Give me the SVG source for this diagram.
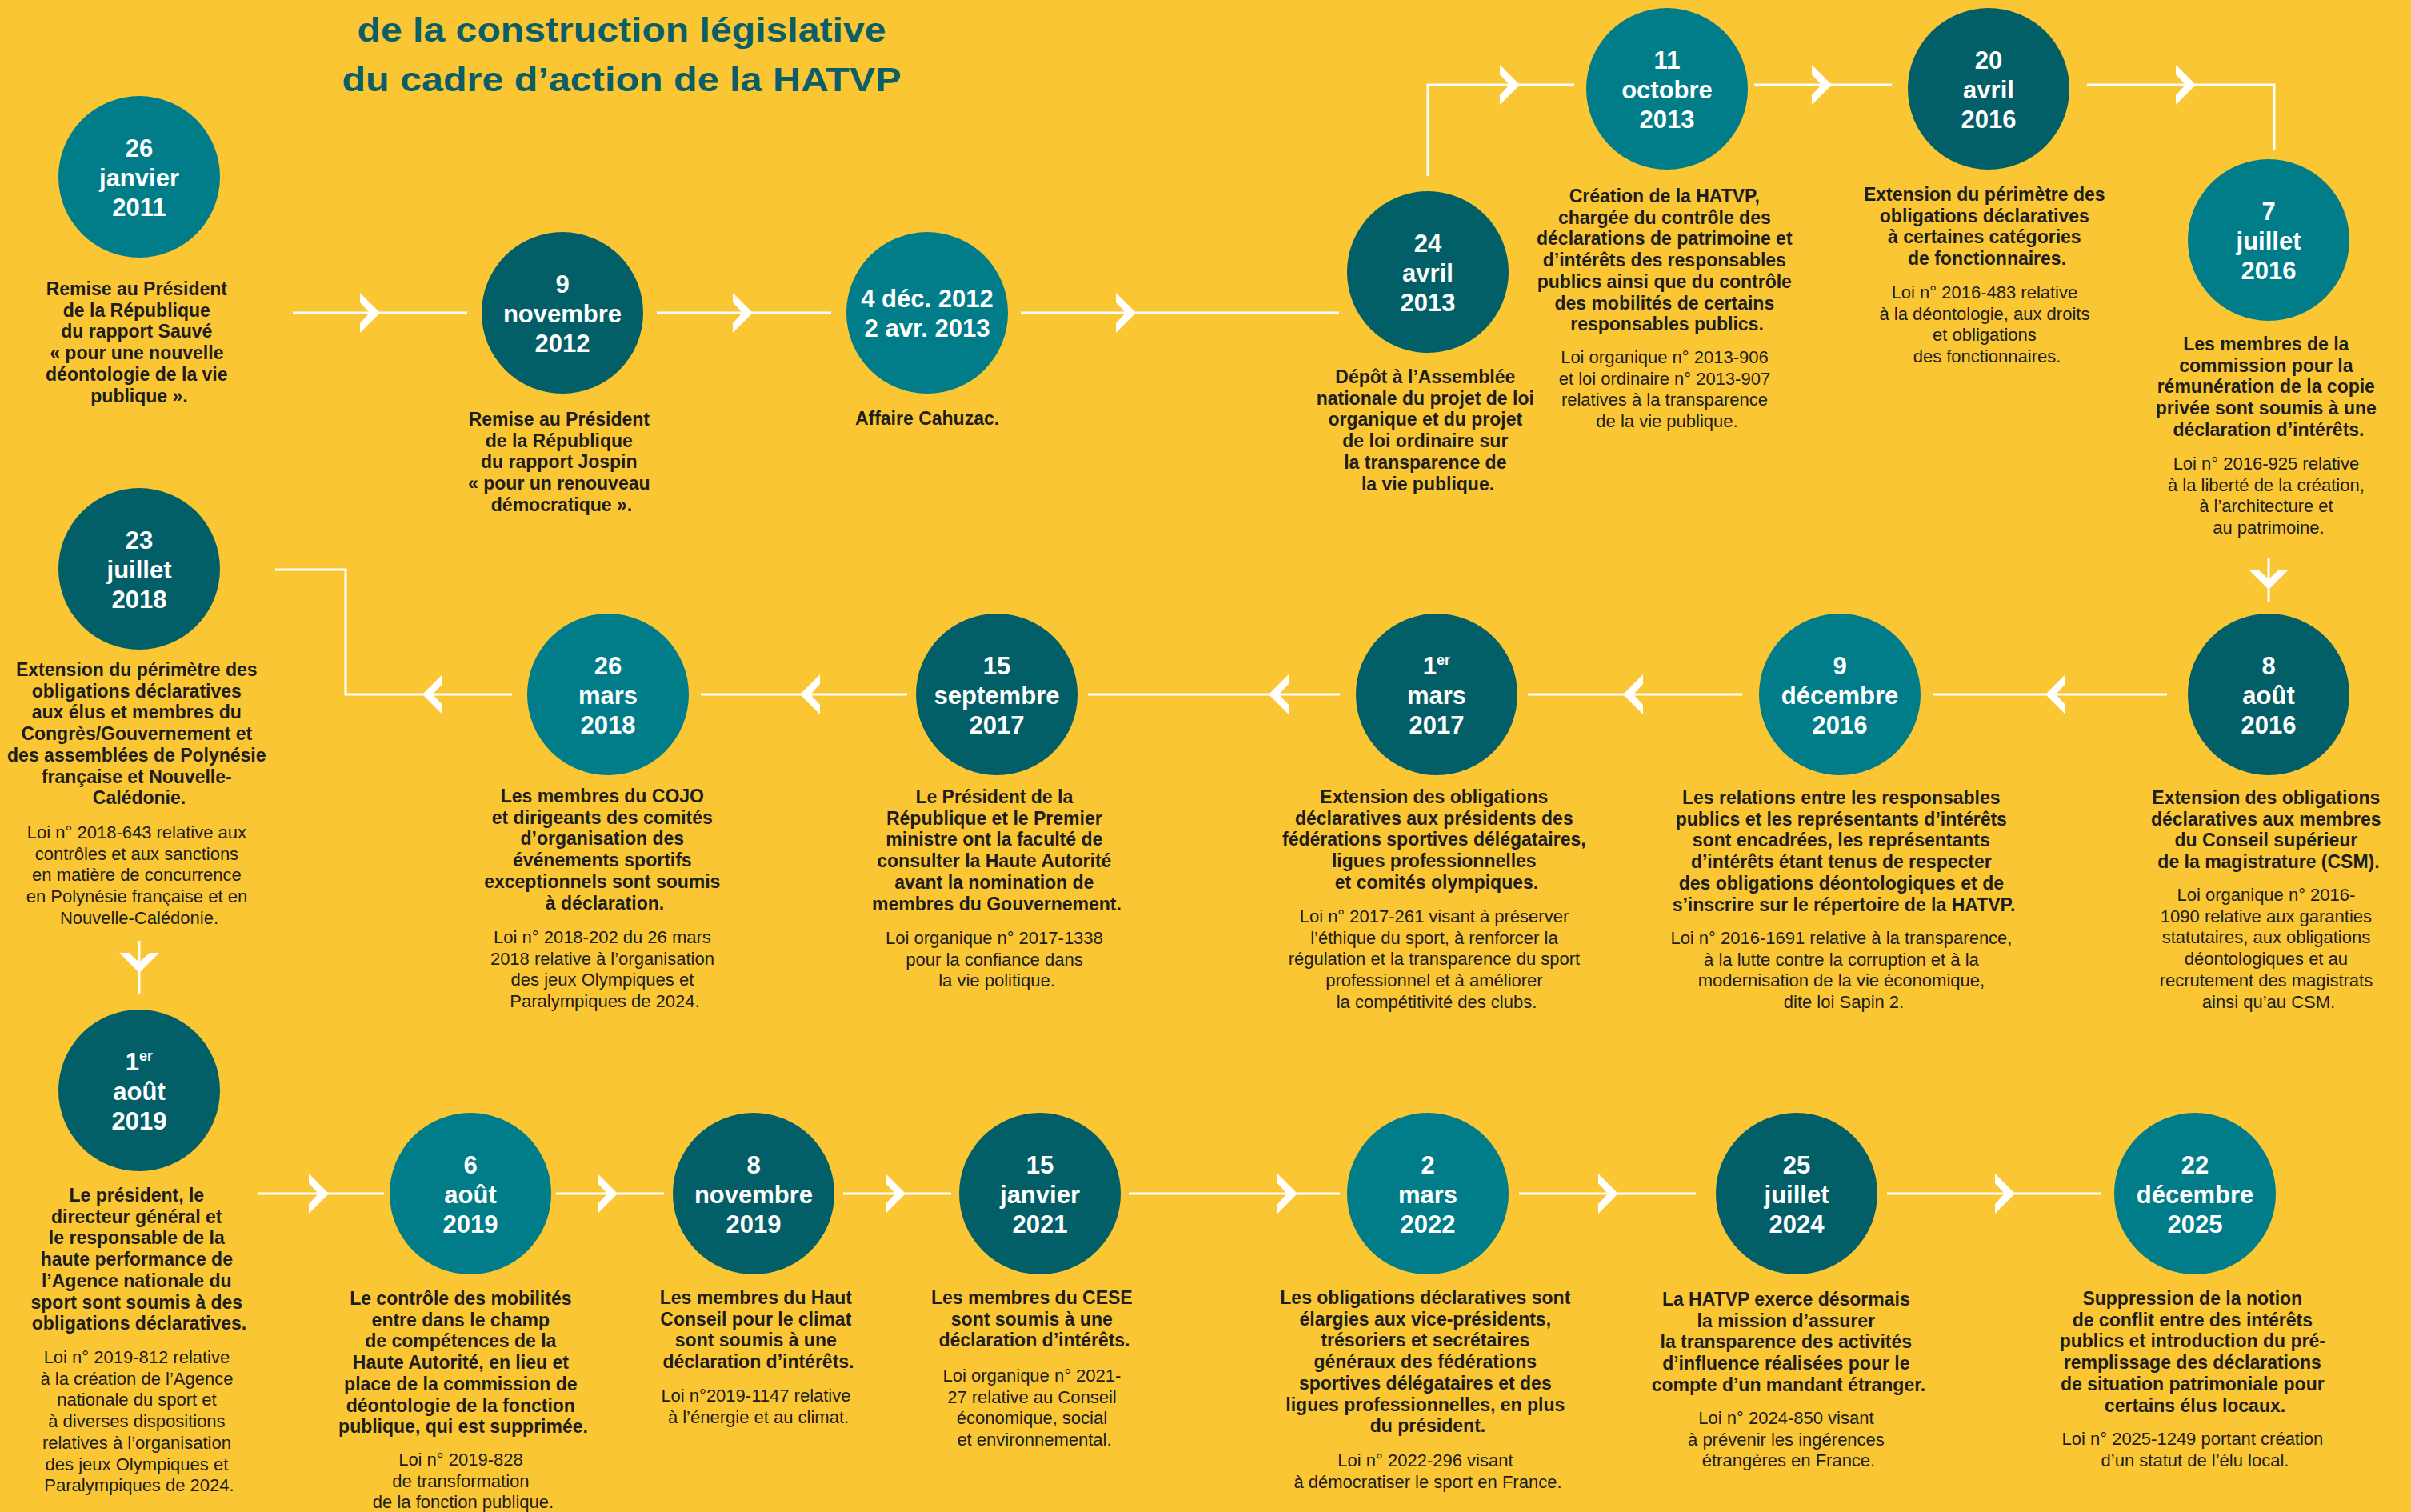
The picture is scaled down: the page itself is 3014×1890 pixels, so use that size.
<svg xmlns="http://www.w3.org/2000/svg" xmlns:xlink="http://www.w3.org/1999/xlink" width="3014" height="1890" viewBox="0 0 3014 1890">
  <style>
    .bg { fill: #FBC633; }
    .light { fill: #007D89; }
    .dark { fill: #035F67; }
    .title { font-family: "Liberation Sans", Arial, sans-serif; font-weight: 700; font-size: 42px; fill: #0B5D66; text-anchor: middle; }
    .date { font-family: "Liberation Sans", Arial, sans-serif; font-weight: 700; font-size: 31px; fill: #FFFFFF; text-anchor: middle; }
    .sup { font-size: 18px; }
    .lead { font-family: "Liberation Sans", Arial, sans-serif; font-weight: 700; font-size: 23px; fill: #1D1D1B; text-anchor: middle; }
    .law { font-family: "Liberation Sans", Arial, sans-serif; font-weight: 400; font-size: 22px; fill: #1D1D1B; text-anchor: middle; }
    .wire { fill: none; stroke: #FFFFFF; stroke-width: 3; }
    .head { fill: #FFFFFF; }
  </style>
  <defs>
    <!-- chevron arrowhead, tip at the origin, pointing right -->
    <path id="chev" class="head" d="M-25,-25 L0,0 L-25,25 L-25,13 L-13,0 L-25,-13 Z"/>
  </defs>

  <rect class="bg" x="0" y="0" width="3014" height="1890"/>

  <g id="title">
    <text class="title" x="777" y="52" textLength="661" lengthAdjust="spacingAndGlyphs">de la construction législative</text>
    <text class="title" x="777" y="114" textLength="699" lengthAdjust="spacingAndGlyphs">du cadre d’action de la HATVP</text>
  </g>

  <g id="connectors">
    <!-- row 1 -->
    <path class="wire" d="M366,391 H584"/>
    <use xlink:href="#chev" transform="translate(475,391)"/>
    <path class="wire" d="M821,391 H1039"/>
    <use xlink:href="#chev" transform="translate(941,391)"/>
    <path class="wire" d="M1276,391 H1674"/>
    <use xlink:href="#chev" transform="translate(1420,391)"/>
    <path class="wire" d="M1785,220 V106 H1968"/>
    <use xlink:href="#chev" transform="translate(1900,106)"/>
    <path class="wire" d="M2193,106 H2365"/>
    <use xlink:href="#chev" transform="translate(2290,106)"/>
    <path class="wire" d="M2609,106 H2843 V187"/>
    <use xlink:href="#chev" transform="translate(2745,106)"/>
    <!-- row 2, running right to left -->
    <path class="wire" d="M2836,697 V752"/>
    <use xlink:href="#chev" transform="translate(2836,737) rotate(90)"/>
    <path class="wire" d="M2709,868 H2416"/>
    <use xlink:href="#chev" transform="translate(2557,868) rotate(180)"/>
    <path class="wire" d="M2178,868 H1910"/>
    <use xlink:href="#chev" transform="translate(2029,868) rotate(180)"/>
    <path class="wire" d="M1675,868 H1360"/>
    <use xlink:href="#chev" transform="translate(1586,868) rotate(180)"/>
    <path class="wire" d="M1134,868 H876"/>
    <use xlink:href="#chev" transform="translate(1000,868) rotate(180)"/>
    <path class="wire" d="M640,868 H432 V712 H344"/>
    <use xlink:href="#chev" transform="translate(528,868) rotate(180)"/>
    <!-- row 3 -->
    <path class="wire" d="M174,1176 V1243"/>
    <use xlink:href="#chev" transform="translate(174,1216) rotate(90)"/>
    <path class="wire" d="M322,1492 H480"/>
    <use xlink:href="#chev" transform="translate(411,1492)"/>
    <path class="wire" d="M695,1492 H830"/>
    <use xlink:href="#chev" transform="translate(772,1492)"/>
    <path class="wire" d="M1054,1492 H1189"/>
    <use xlink:href="#chev" transform="translate(1132,1492)"/>
    <path class="wire" d="M1411,1492 H1675"/>
    <use xlink:href="#chev" transform="translate(1622,1492)"/>
    <path class="wire" d="M1899,1492 H2120"/>
    <use xlink:href="#chev" transform="translate(2023,1492)"/>
    <path class="wire" d="M2359,1492 H2627"/>
    <use xlink:href="#chev" transform="translate(2519,1492)"/>
  </g>

  <g id="n-2011-01-26">
    <circle class="light" cx="174" cy="221" r="101"/>
    <text class="date" x="174" y="196">26</text>
    <text class="date" x="174" y="233">janvier</text>
    <text class="date" x="174" y="270">2011</text>
    <text class="lead" x="174" y="369">
      <tspan x="174">Remise au Président</tspan>
      <tspan x="174" dy="26.7">de la République</tspan>
      <tspan x="174" dy="26.7">du rapport Sauvé</tspan>
      <tspan x="174" dy="26.7">« pour une nouvelle</tspan>
      <tspan x="174" dy="26.7">déontologie de la vie</tspan>
      <tspan x="174" dy="26.7">publique ».</tspan>
    </text>
  </g>

  <g id="n-2012-11-09">
    <circle class="dark" cx="703" cy="391" r="101"/>
    <text class="date" x="703" y="366">9</text>
    <text class="date" x="703" y="403">novembre</text>
    <text class="date" x="703" y="440">2012</text>
    <text class="lead" x="702" y="532">
      <tspan x="702">Remise au Président</tspan>
      <tspan x="702" dy="26.7">de la République</tspan>
      <tspan x="702" dy="26.7">du rapport Jospin</tspan>
      <tspan x="702" dy="26.7">« pour un renouveau</tspan>
      <tspan x="702" dy="26.7">démocratique ».</tspan>
    </text>
  </g>

  <g id="n-2012-12-04">
    <circle class="light" cx="1159" cy="391" r="101"/>
    <text class="date" x="1159" y="384">4 déc. 2012</text>
    <text class="date" x="1159" y="421">2 avr. 2013</text>
    <text class="lead" x="1159" y="531">Affaire Cahuzac.</text>
  </g>

  <g id="n-2013-04-24">
    <circle class="dark" cx="1785" cy="340" r="101"/>
    <text class="date" x="1785" y="315">24</text>
    <text class="date" x="1785" y="352">avril</text>
    <text class="date" x="1785" y="389">2013</text>
    <text class="lead" x="1785" y="479">
      <tspan x="1785">Dépôt à l’Assemblée</tspan>
      <tspan x="1785" dy="26.7">nationale du projet de loi</tspan>
      <tspan x="1785" dy="26.7">organique et du projet</tspan>
      <tspan x="1785" dy="26.7">de loi ordinaire sur</tspan>
      <tspan x="1785" dy="26.7">la transparence de</tspan>
      <tspan x="1785" dy="26.7">la vie publique.</tspan>
    </text>
  </g>

  <g id="n-2013-10-11">
    <circle class="light" cx="2084" cy="111" r="101"/>
    <text class="date" x="2084" y="86">11</text>
    <text class="date" x="2084" y="123">octobre</text>
    <text class="date" x="2084" y="160">2013</text>
    <text class="lead" x="2084" y="253">
      <tspan x="2084">Création de la HATVP,</tspan>
      <tspan x="2084" dy="26.7">chargée du contrôle des</tspan>
      <tspan x="2084" dy="26.7">déclarations de patrimoine et</tspan>
      <tspan x="2084" dy="26.7">d’intérêts des responsables</tspan>
      <tspan x="2084" dy="26.7">publics ainsi que du contrôle</tspan>
      <tspan x="2084" dy="26.7">des mobilités de certains</tspan>
      <tspan x="2084" dy="26.7">responsables publics.</tspan>
    </text>
    <text class="law" x="2084" y="454">
      <tspan x="2084">Loi organique n° 2013-906</tspan>
      <tspan x="2084" dy="26.7">et loi ordinaire n° 2013-907</tspan>
      <tspan x="2084" dy="26.7">relatives à la transparence</tspan>
      <tspan x="2084" dy="26.7">de la vie publique.</tspan>
    </text>
  </g>

  <g id="n-2016-04-20">
    <circle class="dark" cx="2486" cy="111" r="101"/>
    <text class="date" x="2486" y="86">20</text>
    <text class="date" x="2486" y="123">avril</text>
    <text class="date" x="2486" y="160">2016</text>
    <text class="lead" x="2484" y="251">
      <tspan x="2484">Extension du périmètre des</tspan>
      <tspan x="2484" dy="26.7">obligations déclaratives</tspan>
      <tspan x="2484" dy="26.7">à certaines catégories</tspan>
      <tspan x="2484" dy="26.7">de fonctionnaires.</tspan>
    </text>
    <text class="law" x="2484" y="373">
      <tspan x="2484">Loi n° 2016-483 relative</tspan>
      <tspan x="2484" dy="26.7">à la déontologie, aux droits</tspan>
      <tspan x="2484" dy="26.7">et obligations</tspan>
      <tspan x="2484" dy="26.7">des fonctionnaires.</tspan>
    </text>
  </g>

  <g id="n-2016-07-07">
    <circle class="light" cx="2836" cy="300" r="101"/>
    <text class="date" x="2836" y="275">7</text>
    <text class="date" x="2836" y="312">juillet</text>
    <text class="date" x="2836" y="349">2016</text>
    <text class="lead" x="2836" y="438">
      <tspan x="2836">Les membres de la</tspan>
      <tspan x="2836" dy="26.7">commission pour la</tspan>
      <tspan x="2836" dy="26.7">rémunération de la copie</tspan>
      <tspan x="2836" dy="26.7">privée sont soumis à une</tspan>
      <tspan x="2836" dy="26.7">déclaration d’intérêts.</tspan>
    </text>
    <text class="law" x="2836" y="587">
      <tspan x="2836">Loi n° 2016-925 relative</tspan>
      <tspan x="2836" dy="26.7">à la liberté de la création,</tspan>
      <tspan x="2836" dy="26.7">à l’architecture et</tspan>
      <tspan x="2836" dy="26.7">au patrimoine.</tspan>
    </text>
  </g>

  <g id="n-2016-08-08">
    <circle class="dark" cx="2836" cy="868" r="101"/>
    <text class="date" x="2836" y="843">8</text>
    <text class="date" x="2836" y="880">août</text>
    <text class="date" x="2836" y="917">2016</text>
    <text class="lead" x="2836" y="1005">
      <tspan x="2836">Extension des obligations</tspan>
      <tspan x="2836" dy="26.7">déclaratives aux membres</tspan>
      <tspan x="2836" dy="26.7">du Conseil supérieur</tspan>
      <tspan x="2836" dy="26.7">de la magistrature (CSM).</tspan>
    </text>
    <text class="law" x="2836" y="1126">
      <tspan x="2836">Loi organique n° 2016-</tspan>
      <tspan x="2836" dy="26.7">1090 relative aux garanties</tspan>
      <tspan x="2836" dy="26.7">statutaires, aux obligations</tspan>
      <tspan x="2836" dy="26.7">déontologiques et au</tspan>
      <tspan x="2836" dy="26.7">recrutement des magistrats</tspan>
      <tspan x="2836" dy="26.7">ainsi qu’au CSM.</tspan>
    </text>
  </g>

  <g id="n-2016-12-09">
    <circle class="light" cx="2300" cy="868" r="101"/>
    <text class="date" x="2300" y="843">9</text>
    <text class="date" x="2300" y="880">décembre</text>
    <text class="date" x="2300" y="917">2016</text>
    <text class="lead" x="2305" y="1005">
      <tspan x="2305">Les relations entre les responsables</tspan>
      <tspan x="2305" dy="26.7">publics et les représentants d’intérêts</tspan>
      <tspan x="2305" dy="26.7">sont encadrées, les représentants</tspan>
      <tspan x="2305" dy="26.7">d’intérêts étant tenus de respecter</tspan>
      <tspan x="2305" dy="26.7">des obligations déontologiques et de</tspan>
      <tspan x="2305" dy="26.7">s’inscrire sur le répertoire de la HATVP.</tspan>
    </text>
    <text class="law" x="2305" y="1180">
      <tspan x="2305">Loi n° 2016-1691 relative à la transparence,</tspan>
      <tspan x="2305" dy="26.7">à la lutte contre la corruption et à la</tspan>
      <tspan x="2305" dy="26.7">modernisation de la vie économique,</tspan>
      <tspan x="2305" dy="26.7">dite loi Sapin 2.</tspan>
    </text>
  </g>

  <g id="n-2017-03-01">
    <circle class="dark" cx="1796" cy="868" r="101"/>
    <text class="date" x="1796" y="843">1<tspan class="sup" dy="-12">er</tspan></text>
    <text class="date" x="1796" y="880">mars</text>
    <text class="date" x="1796" y="917">2017</text>
    <text class="lead" x="1796" y="1004">
      <tspan x="1796">Extension des obligations</tspan>
      <tspan x="1796" dy="26.7">déclaratives aux présidents des</tspan>
      <tspan x="1796" dy="26.7">fédérations sportives délégataires,</tspan>
      <tspan x="1796" dy="26.7">ligues professionnelles</tspan>
      <tspan x="1796" dy="26.7">et comités olympiques.</tspan>
    </text>
    <text class="law" x="1796" y="1153">
      <tspan x="1796">Loi n° 2017-261 visant à préserver</tspan>
      <tspan x="1796" dy="26.7">l’éthique du sport, à renforcer la</tspan>
      <tspan x="1796" dy="26.7">régulation et la transparence du sport</tspan>
      <tspan x="1796" dy="26.7">professionnel et à améliorer</tspan>
      <tspan x="1796" dy="26.7">la compétitivité des clubs.</tspan>
    </text>
  </g>

  <g id="n-2017-09-15">
    <circle class="dark" cx="1246" cy="868" r="101"/>
    <text class="date" x="1246" y="843">15</text>
    <text class="date" x="1246" y="880">septembre</text>
    <text class="date" x="1246" y="917">2017</text>
    <text class="lead" x="1246" y="1004">
      <tspan x="1246">Le Président de la</tspan>
      <tspan x="1246" dy="26.7">République et le Premier</tspan>
      <tspan x="1246" dy="26.7">ministre ont la faculté de</tspan>
      <tspan x="1246" dy="26.7">consulter la Haute Autorité</tspan>
      <tspan x="1246" dy="26.7">avant la nomination de</tspan>
      <tspan x="1246" dy="26.7">membres du Gouvernement.</tspan>
    </text>
    <text class="law" x="1246" y="1180">
      <tspan x="1246">Loi organique n° 2017-1338</tspan>
      <tspan x="1246" dy="26.7">pour la confiance dans</tspan>
      <tspan x="1246" dy="26.7">la vie politique.</tspan>
    </text>
  </g>

  <g id="n-2018-03-26">
    <circle class="light" cx="760" cy="868" r="101"/>
    <text class="date" x="760" y="843">26</text>
    <text class="date" x="760" y="880">mars</text>
    <text class="date" x="760" y="917">2018</text>
    <text class="lead" x="756" y="1003">
      <tspan x="756">Les membres du COJO</tspan>
      <tspan x="756" dy="26.7">et dirigeants des comités</tspan>
      <tspan x="756" dy="26.7">d’organisation des</tspan>
      <tspan x="756" dy="26.7">événements sportifs</tspan>
      <tspan x="756" dy="26.7">exceptionnels sont soumis</tspan>
      <tspan x="756" dy="26.7">à déclaration.</tspan>
    </text>
    <text class="law" x="756" y="1179">
      <tspan x="756">Loi n° 2018-202 du 26 mars</tspan>
      <tspan x="756" dy="26.7">2018 relative à l’organisation</tspan>
      <tspan x="756" dy="26.7">des jeux Olympiques et</tspan>
      <tspan x="756" dy="26.7">Paralympiques de 2024.</tspan>
    </text>
  </g>

  <g id="n-2018-07-23">
    <circle class="dark" cx="174" cy="711" r="101"/>
    <text class="date" x="174" y="686">23</text>
    <text class="date" x="174" y="723">juillet</text>
    <text class="date" x="174" y="760">2018</text>
    <text class="lead" x="174" y="845">
      <tspan x="174">Extension du périmètre des</tspan>
      <tspan x="174" dy="26.7">obligations déclaratives</tspan>
      <tspan x="174" dy="26.7">aux élus et membres du</tspan>
      <tspan x="174" dy="26.7">Congrès/Gouvernement et</tspan>
      <tspan x="174" dy="26.7">des assemblées de Polynésie</tspan>
      <tspan x="174" dy="26.7">française et Nouvelle-</tspan>
      <tspan x="174" dy="26.7">Calédonie.</tspan>
    </text>
    <text class="law" x="174" y="1048">
      <tspan x="174">Loi n° 2018-643 relative aux</tspan>
      <tspan x="174" dy="26.7">contrôles et aux sanctions</tspan>
      <tspan x="174" dy="26.7">en matière de concurrence</tspan>
      <tspan x="174" dy="26.7">en Polynésie française et en</tspan>
      <tspan x="174" dy="26.7">Nouvelle-Calédonie.</tspan>
    </text>
  </g>

  <g id="n-2019-08-01">
    <circle class="dark" cx="174" cy="1363" r="101"/>
    <text class="date" x="174" y="1338">1<tspan class="sup" dy="-12">er</tspan></text>
    <text class="date" x="174" y="1375">août</text>
    <text class="date" x="174" y="1412">2019</text>
    <text class="lead" x="174" y="1502">
      <tspan x="174">Le président, le</tspan>
      <tspan x="174" dy="26.7">directeur général et</tspan>
      <tspan x="174" dy="26.7">le responsable de la</tspan>
      <tspan x="174" dy="26.7">haute performance de</tspan>
      <tspan x="174" dy="26.7">l’Agence nationale du</tspan>
      <tspan x="174" dy="26.7">sport sont soumis à des</tspan>
      <tspan x="174" dy="26.7">obligations déclaratives.</tspan>
    </text>
    <text class="law" x="174" y="1704">
      <tspan x="174">Loi n° 2019-812 relative</tspan>
      <tspan x="174" dy="26.7">à la création de l’Agence</tspan>
      <tspan x="174" dy="26.7">nationale du sport et</tspan>
      <tspan x="174" dy="26.7">à diverses dispositions</tspan>
      <tspan x="174" dy="26.7">relatives à l’organisation</tspan>
      <tspan x="174" dy="26.7">des jeux Olympiques et</tspan>
      <tspan x="174" dy="26.7">Paralympiques de 2024.</tspan>
    </text>
  </g>

  <g id="n-2019-08-06">
    <circle class="light" cx="588" cy="1492" r="101"/>
    <text class="date" x="588" y="1467">6</text>
    <text class="date" x="588" y="1504">août</text>
    <text class="date" x="588" y="1541">2019</text>
    <text class="lead" x="579" y="1631">
      <tspan x="579">Le contrôle des mobilités</tspan>
      <tspan x="579" dy="26.7">entre dans le champ</tspan>
      <tspan x="579" dy="26.7">de compétences de la</tspan>
      <tspan x="579" dy="26.7">Haute Autorité, en lieu et</tspan>
      <tspan x="579" dy="26.7">place de la commission de</tspan>
      <tspan x="579" dy="26.7">déontologie de la fonction</tspan>
      <tspan x="579" dy="26.7">publique, qui est supprimée.</tspan>
    </text>
    <text class="law" x="579" y="1832">
      <tspan x="579">Loi n° 2019-828</tspan>
      <tspan x="579" dy="26.7">de transformation</tspan>
      <tspan x="579" dy="26.7">de la fonction publique.</tspan>
    </text>
  </g>

  <g id="n-2019-11-08">
    <circle class="dark" cx="942" cy="1492" r="101"/>
    <text class="date" x="942" y="1467">8</text>
    <text class="date" x="942" y="1504">novembre</text>
    <text class="date" x="942" y="1541">2019</text>
    <text class="lead" x="948" y="1630">
      <tspan x="948">Les membres du Haut</tspan>
      <tspan x="948" dy="26.7">Conseil pour le climat</tspan>
      <tspan x="948" dy="26.7">sont soumis à une</tspan>
      <tspan x="948" dy="26.7">déclaration d’intérêts.</tspan>
    </text>
    <text class="law" x="948" y="1752">
      <tspan x="948">Loi n°2019-1147 relative</tspan>
      <tspan x="948" dy="26.7">à l’énergie et au climat.</tspan>
    </text>
  </g>

  <g id="n-2021-01-15">
    <circle class="dark" cx="1300" cy="1492" r="101"/>
    <text class="date" x="1300" y="1467">15</text>
    <text class="date" x="1300" y="1504">janvier</text>
    <text class="date" x="1300" y="1541">2021</text>
    <text class="lead" x="1293" y="1630">
      <tspan x="1293">Les membres du CESE</tspan>
      <tspan x="1293" dy="26.7">sont soumis à une</tspan>
      <tspan x="1293" dy="26.7">déclaration d’intérêts.</tspan>
    </text>
    <text class="law" x="1293" y="1727">
      <tspan x="1293">Loi organique n° 2021-</tspan>
      <tspan x="1293" dy="26.7">27 relative au Conseil</tspan>
      <tspan x="1293" dy="26.7">économique, social</tspan>
      <tspan x="1293" dy="26.7">et environnemental.</tspan>
    </text>
  </g>

  <g id="n-2022-03-02">
    <circle class="light" cx="1785" cy="1492" r="101"/>
    <text class="date" x="1785" y="1467">2</text>
    <text class="date" x="1785" y="1504">mars</text>
    <text class="date" x="1785" y="1541">2022</text>
    <text class="lead" x="1785" y="1630">
      <tspan x="1785">Les obligations déclaratives sont</tspan>
      <tspan x="1785" dy="26.7">élargies aux vice-présidents,</tspan>
      <tspan x="1785" dy="26.7">trésoriers et secrétaires</tspan>
      <tspan x="1785" dy="26.7">généraux des fédérations</tspan>
      <tspan x="1785" dy="26.7">sportives délégataires et des</tspan>
      <tspan x="1785" dy="26.7">ligues professionnelles, en plus</tspan>
      <tspan x="1785" dy="26.7">du président.</tspan>
    </text>
    <text class="law" x="1785" y="1833">
      <tspan x="1785">Loi n° 2022-296 visant</tspan>
      <tspan x="1785" dy="26.7">à démocratiser le sport en France.</tspan>
    </text>
  </g>

  <g id="n-2024-07-25">
    <circle class="dark" cx="2246" cy="1492" r="101"/>
    <text class="date" x="2246" y="1467">25</text>
    <text class="date" x="2246" y="1504">juillet</text>
    <text class="date" x="2246" y="1541">2024</text>
    <text class="lead" x="2236" y="1632">
      <tspan x="2236">La HATVP exerce désormais</tspan>
      <tspan x="2236" dy="26.7">la mission d’assurer</tspan>
      <tspan x="2236" dy="26.7">la transparence des activités</tspan>
      <tspan x="2236" dy="26.7">d’influence réalisées pour le</tspan>
      <tspan x="2236" dy="26.7">compte d’un mandant étranger.</tspan>
    </text>
    <text class="law" x="2236" y="1780">
      <tspan x="2236">Loi n° 2024-850 visant</tspan>
      <tspan x="2236" dy="26.7">à prévenir les ingérences</tspan>
      <tspan x="2236" dy="26.7">étrangères en France.</tspan>
    </text>
  </g>

  <g id="n-2025-12-22">
    <circle class="light" cx="2744" cy="1492" r="101"/>
    <text class="date" x="2744" y="1467">22</text>
    <text class="date" x="2744" y="1504">décembre</text>
    <text class="date" x="2744" y="1541">2025</text>
    <text class="lead" x="2744" y="1631">
      <tspan x="2744">Suppression de la notion</tspan>
      <tspan x="2744" dy="26.7">de conflit entre des intérêts</tspan>
      <tspan x="2744" dy="26.7">publics et introduction du pré-</tspan>
      <tspan x="2744" dy="26.7">remplissage des déclarations</tspan>
      <tspan x="2744" dy="26.7">de situation patrimoniale pour</tspan>
      <tspan x="2744" dy="26.7">certains élus locaux.</tspan>
    </text>
    <text class="law" x="2744" y="1806">
      <tspan x="2744">Loi n° 2025-1249 portant création</tspan>
      <tspan x="2744" dy="26.7">d’un statut de l’élu local.</tspan>
    </text>
  </g>
</svg>
